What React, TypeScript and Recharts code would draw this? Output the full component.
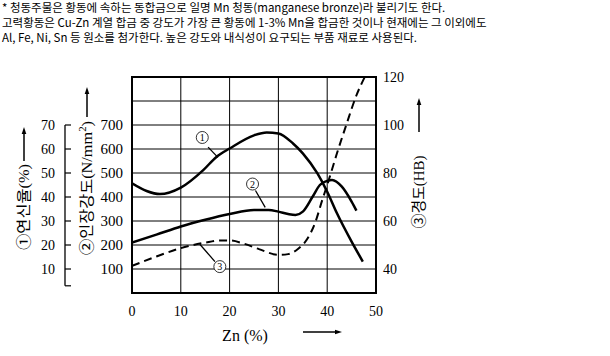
import React from 'react';
import { LineChart, Line, XAxis, YAxis, CartesianGrid, ReferenceArea, ReferenceLine, ReferenceDot } from 'recharts';

// ---- data ----
const znTicks = [0, 10, 20, 30, 40, 50];
const tensileTicks = [0, 100, 200, 300, 400, 500, 600, 700, 800, 900];
const elongTicks = [3, 10, 20, 30, 40, 50, 60, 70];
const hardTicks = [40, 60, 80, 100, 120];

// ① elongation (%)
const elongZn = [0, 3, 5.7, 10, 14.6, 17.3, 20, 25, 27.6, 30, 33, 35, 38, 40, 42, 45, 47.3];
const elongVal = [45.7, 42.5, 41.2, 43.9, 51.2, 56.7, 60.2, 65.7, 66.9, 66.5, 62.3, 58.2, 49.8, 42.2, 33.2, 21.4, 13.1];

// ② tensile strength (N/mm2)
const tensileZn = [0, 5, 10, 15, 20, 25, 28, 30, 32, 33.5, 35, 37, 38.5, 40, 41, 43, 45, 46];
const tensileVal = [210, 243, 277, 305, 329, 346, 346, 339, 329, 325, 339, 401, 450, 467, 471, 443, 381, 343];

// ③ hardness (HB)
const hardZn = [0, 5, 10, 15, 18, 20, 23, 26, 30, 32, 34, 36, 37.5, 39, 40, 42, 44, 46, 47.7];
const hardVal = [41.3, 45.2, 48.7, 51, 51.9, 51.9, 50.5, 48.3, 45.9, 46.2, 48.3, 52.8, 59.1, 68.8, 75, 88.2, 100.6, 112.4, 120];

// curve markers (x in Zn %, y in tensile units)
const markerLabels = ['1', '2', '3'];
const markerX = [14.4, 24.7, 18.0];
const markerY = [648, 454, 110];
const leaderFrom = [{ x: 15.6, y: 608 }, { x: 25.3, y: 427 }, { x: 17.0, y: 131 }];
const leaderTo = [{ x: 17.6, y: 565 }, { x: 27.3, y: 357 }, { x: 13.9, y: 203 }];

const noteLines = [
  '* 청동주물은 황동에 속하는 동합금으로 일명 Mn 청동(manganese bronze)라 불리기도 한다.',
  '고력황동은 Cu-Zn 계열 합금 중 강도가 가장 큰 황동에 1-3% Mn을 합금한 것이나 현재에는 그 이외에도',
  'Al, Fe, Ni, Sn 등 원소를 첨가한다. 높은 강도와 내식성이 요구되는 부품 재료로 사용된다.',
];

const elongData = elongZn.map((x, i) => ({ x, e: elongVal[i] }));
const tensileData = tensileZn.map((x, i) => ({ x, t: tensileVal[i] }));
const hardData = hardZn.map((x, i) => ({ x, h: hardVal[i] }));

const SERIF = "'Liberation Serif', 'Times New Roman', serif";
const KSERIF = "'Liberation Serif', 'Noto Sans CJK KR', serif";
const ELONG_AXIS_X = -13.73; // elongation bracket position, in Zn units

function Arrow({ x1, y1, x2, y2 }: { x1: number; y1: number; x2: number; y2: number }) {
  const ang = Math.atan2(y2 - y1, x2 - x1);
  const L = 7, W = 2.3;
  const bx = x2 - L * Math.cos(ang), by = y2 - L * Math.sin(ang);
  const px = -Math.sin(ang) * W, py = Math.cos(ang) * W;
  return (
    <g>
      <line x1={x1} y1={y1} x2={bx} y2={by} stroke="#000" strokeWidth={1.5} />
      <polygon points={`${x2},${y2} ${bx + px},${by + py} ${bx - px},${by - py}`} fill="#000" />
    </g>
  );
}

export default function App() {
  return (
    <div style={{ position: 'absolute', left: 0, top: 0, width: 610, height: 356, background: '#fff', overflow: 'hidden' }}>
      <div style={{ position: 'absolute', left: 2, top: 0, fontFamily: "'Noto Sans CJK KR', sans-serif", fontSize: 11.5, lineHeight: '15px', color: '#000', whiteSpace: 'nowrap' }}>
        {noteLines.map((l, i) => (
          <div key={i}>{l}</div>
        ))}
      </div>
      <div style={{ position: 'absolute', left: 0, top: 0 }}>
        <LineChart width={610} height={356} margin={{ top: 77, right: 194, bottom: 33, left: 30 }}>
          <CartesianGrid yAxisId="a" stroke="#000" strokeWidth={1} />
          <XAxis
            dataKey="x"
            type="number"
            domain={[0, 50]}
            ticks={znTicks}
            allowDataOverflow
            axisLine={false}
            tickLine={false}
            tickSize={0}
            tickMargin={13}
            height={30}
            tick={{ fontFamily: SERIF, fontSize: 14, fill: '#000' }}
          />
          <YAxis
            yAxisId="b"
            orientation="left"
            type="number"
            domain={[0, 90]}
            ticks={elongTicks}
            width={35}
            axisLine={false}
            tickLine={{ stroke: '#000', strokeWidth: 1.2 }}
            tickSize={-6}
            tickMargin={16}
            tickFormatter={(v: number) => (v >= 10 ? String(v) : '')}
            tick={{ fontFamily: SERIF, fontSize: 14, fill: '#000' }}
          />
          <YAxis
            yAxisId="a"
            orientation="left"
            type="number"
            domain={[0, 900]}
            ticks={tensileTicks}
            width={67}
            axisLine={false}
            tickLine={false}
            tickSize={0}
            tickMargin={9}
            tickFormatter={(v: number) => (v >= 100 && v <= 700 ? String(v) : '')}
            tick={{ fontFamily: SERIF, fontSize: 15, fill: '#000' }}
          />
          <YAxis
            yAxisId="h"
            orientation="right"
            type="number"
            domain={[30, 120]}
            ticks={hardTicks}
            width={40}
            axisLine={false}
            tickLine={false}
            tickSize={0}
            tickMargin={7}
            tick={{ fontFamily: SERIF, fontSize: 14, fill: '#000' }}
          />
          <ReferenceArea yAxisId="a" x1={0} x2={50} y1={0} y2={900} fill="none" stroke="#000" strokeWidth={2} />
          <ReferenceLine
            yAxisId="b"
            ifOverflow="visible"
            segment={[{ x: ELONG_AXIS_X, y: elongTicks[elongTicks.length - 1] }, { x: ELONG_AXIS_X, y: elongTicks[0] }]}
            stroke="#000"
            strokeWidth={1.3}
          />
          <Line data={elongData} yAxisId="b" dataKey="e" type="monotone" stroke="#000" strokeWidth={2.5} dot={false} isAnimationActive={false} />
          <Line data={tensileData} yAxisId="a" dataKey="t" type="monotone" stroke="#000" strokeWidth={2.5} dot={false} isAnimationActive={false} />
          <Line data={hardData} yAxisId="h" dataKey="h" type="monotone" stroke="#000" strokeWidth={2} strokeDasharray="8 5" dot={false} isAnimationActive={false} />
          {markerLabels.map((m, i) => (
            <ReferenceLine
              key={'l' + i}
              yAxisId="a"
              segment={[leaderFrom[i], leaderTo[i]]}
              stroke="#000"
              strokeWidth={1.3}
            />
          ))}
          {markerLabels.map((m, i) => (
            <ReferenceDot
              key={'d' + i}
              yAxisId="a"
              x={markerX[i]}
              y={markerY[i]}
              r={6}
              fill="#fff"
              stroke="#000"
              strokeWidth={0.8}
              label={{ value: m, position: 'center', fontFamily: SERIF, fontSize: 10, fill: '#000' }}
            />
          ))}
        </LineChart>
      </div>
      <svg width={610} height={356} style={{ position: 'absolute', left: 0, top: 0, pointerEvents: 'none' }}>
        <text x={0} y={0} transform="translate(24,207) rotate(-90)" textAnchor="middle" dominantBaseline="central" fontFamily={KSERIF} fontSize={15} fill="#000" textLength={86} lengthAdjust="spacingAndGlyphs">
          ①연신율(%)
        </text>
        <Arrow x1={24} y1={161} x2={24} y2={127} />
        <text x={0} y={0} transform="translate(87,188) rotate(-90)" textAnchor="middle" dominantBaseline="central" fontFamily={KSERIF} fontSize={15} fill="#000" textLength={134} lengthAdjust="spacingAndGlyphs">
          ②인장강도(N/mm<tspan dy={-5} fontSize={10}>2</tspan><tspan dy={5}>)</tspan>
        </text>
        <Arrow x1={87} y1={117} x2={87} y2={87} />
        <text x={0} y={0} transform="translate(418.5,192) rotate(-90)" textAnchor="middle" dominantBaseline="central" fontFamily={KSERIF} fontSize={14.5} fill="#000" textLength={73} lengthAdjust="spacingAndGlyphs">
          ③경도(HB)
        </text>
        <Arrow x1={419} y1={132} x2={419} y2={98} />
        <text x={245} y={341} textAnchor="middle" fontFamily={SERIF} fontSize={16} fill="#000">
          Zn (%)
        </text>
        <Arrow x1={303} y1={332} x2={342} y2={332} />
      </svg>
    </div>
  );
}
